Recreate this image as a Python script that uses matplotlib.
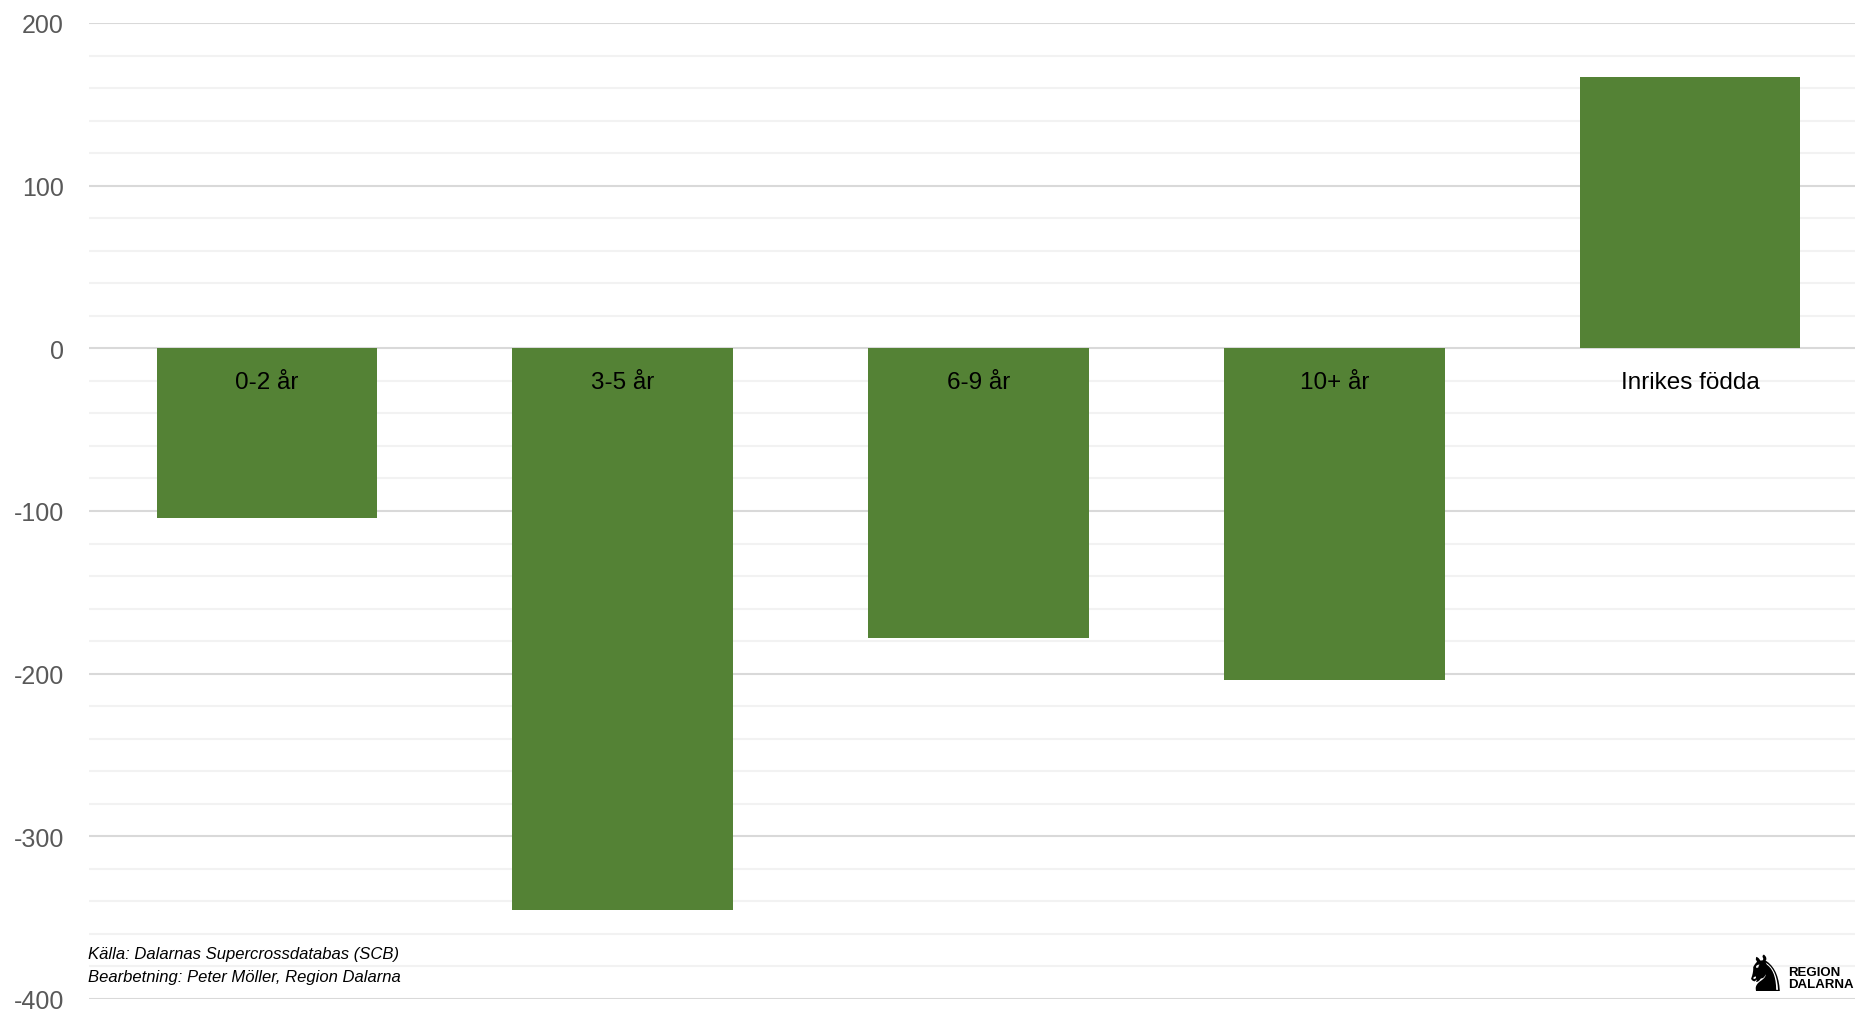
import numpy as np
import matplotlib.pyplot as plt

plt.rcParams['axes.unicode_minus'] = False

# data
categories = ['0-2 år', '3-5 år', '6-9 år', '10+ år', 'Inrikes födda']
values = [-104, -345, -178, -204, 167]
y_ticks = [-400, -300, -200, -100, 0, 100, 200]

bar_color = '#548235'
W, H = 1855, 1012

fig = plt.figure(figsize=(W / 100, H / 100), dpi=100)
ax = fig.add_axes([89 / W, 12 / H, 1779 / W, 976 / H])

x = np.arange(len(categories))
ax.bar(x, values, width=0.62, color=bar_color, zorder=3)

ax.set_xlim(-0.5, len(categories) - 0.5)
ax.set_ylim(-400, 200)

# gridlines: major every 100, minor every 20
ax.set_yticks(y_ticks)
ax.set_yticks(np.arange(-400, 201, 20), minor=True)
ax.yaxis.grid(True, which='major', color='#d9d9d9', lw=1.5, zorder=0)
ax.yaxis.grid(True, which='minor', color='#f2f2f2', lw=1.5, zorder=0)
ax.set_xticks([])
ax.tick_params(axis='y', which='both', length=0, pad=18,
               labelsize=18, labelcolor='#595959')
for lbl in ax.get_yticklabels():
    lbl.set_fontfamily('Liberation Sans')
for s in ax.spines.values():
    s.set_visible(False)

# category labels just below the zero line
for xi, name in zip(x, categories):
    ax.text(xi, -21, name, ha='center', va='center', fontsize=17.5,
            family='Liberation Sans', color='black', zorder=4)

# source note
fig.text(88 / W, 1 - 955 / H, 'Källa: Dalarnas Supercrossdatabas (SCB)',
         fontsize=12, style='italic', family='Liberation Sans', va='center')
fig.text(88 / W, 1 - 978 / H, 'Bearbetning: Peter Möller, Region Dalarna',
         fontsize=12, style='italic', family='Liberation Sans', va='center')

# logo
fig.text(1765 / W, 1 - 977 / H, '\u265e', fontsize=36, family='DejaVu Sans',
         ha='center', va='center', color='black')
fig.text(1788 / W, 1 - 979 / H, 'REGION\nDALARNA', fontsize=9.5, fontweight='bold',
         family='Liberation Sans', ha='left', va='center', linespacing=0.95)

fig.savefig('out.png', dpi=100)
